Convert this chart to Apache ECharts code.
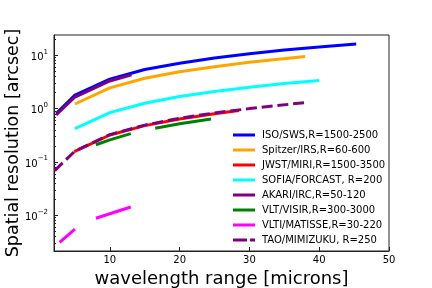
<!DOCTYPE html>
<html>
<head>
<meta charset="utf-8">
<script src="https://cdn.jsdelivr.net/npm/echarts@6/dist/echarts.min.js"></script>
<style>html,body{margin:0;padding:0;background:#fff}#c{width:432px;height:288px}</style>
</head>
<body>
<div id="c"></div>
<script>
// ---- data (wavelength in microns, resolution in arcsec) ----
const isoSws   = [[2.35,0.82],[5,1.8],[10,3.56],[15,5.4],[20,7.1],[25,8.9],[30,10.7],[35,12.5],[40,14.3],[45.3,16.2]];
const spitzer  = [[5.0,1.22],[10,2.45],[15,3.7],[20,4.9],[25,6.1],[30,7.4],[38,9.5]];
const jwst     = [[4.9,0.156],[10,0.32],[15,0.48],[20,0.64],[25,0.8],[28.5,0.92]];
const sofia    = [[5,0.42],[10,0.84],[15,1.26],[20,1.68],[25,2.1],[30,2.52],[35,2.95],[40,3.36]];
const akari    = [[2.3,0.76],[5,1.65],[10,3.3],[13.1,4.3]];
const visir    = [[8,0.21],[10,0.26],[13,0.34],[15,'-'],[16.5,0.43],[20,0.52],[24.5,0.64]];
const matisse  = [[2.8,0.0031],[5,0.0055],[6.5,'-'],[8,0.0088],[13,0.0143]];
const mimizuku = [[2.1,0.069],[5,0.16],[10,0.325],[15,0.49],[20,0.66],[25,0.83],[30,1.0],[38,1.3]];

const xTicks = [10, 20, 30, 40, 50];
const yTicks = [0.01, 0.1, 1, 10];
const yMinorTicks = [0.003,0.004,0.005,0.006,0.007,0.008,0.009,
                     0.02,0.03,0.04,0.05,0.06,0.07,0.08,0.09,
                     0.2,0.3,0.4,0.5,0.6,0.7,0.8,0.9,
                     2,3,4,5,6,7,8,9,20];

const names = ['ISO/SWS,R=1500-2500','Spitzer/IRS,R=60-600','JWST/MIRI,R=1500-3500','SOFIA/FORCAST, R=200',
               'AKARI/IRC,R=50-120','VLT/VISIR,R=300-3000','VLTI/MATISSE,R=30-220','TAO/MIMIZUKU, R=250'];
const colors = ['#0000ff','#ffa500','#ff0000','#00ffff','#800080','#008000','#ff00ff','#800080'];
const datas = [isoSws, spitzer, jwst, sofia, akari, visir, matisse, mimizuku];

const FONT = 'DejaVu Sans';
const YMIN = 0.00214, YMAX = 24;

const series = datas.map((d, i) => ({
  name: names[i],
  type: 'line',
  data: d,
  showSymbol: false,
  symbol: 'none',
  connectNulls: false,
  smooth: false,
  color: colors[i],
  itemStyle: {color: colors[i]},
  lineStyle: {
    color: colors[i],
    width: 3,
    type: i === 7 ? [11, 4.8] : 'solid',
    cap: 'butt'
  },
  emphasis: {disabled: true},
  animation: false
}));

const solidIcon = 'path://M0,0h22v3h-22z';
const dashIcon = 'path://M0,0h14v3h-14z M17,0h5v3h-5z';
const legendData = names.map((n, i) => ({name: n, icon: i === 7 ? dashIcon : solidIcon,
  itemStyle: {color: colors[i]}}));

function fmtPow(v) {
  const e = Math.round(Math.log10(v));
  const s = String(e).replace('-', '\u2212');
  return '{b|10}{s|' + s + '}';
}

const chart = echarts.init(document.getElementById('c'), null, {renderer: 'canvas'});
chart.setOption({
  backgroundColor: '#fff',
  animation: false,
  grid: {left: 54, right: 43, top: 35, bottom: 37, show: true, borderColor: '#222', borderWidth: 1, backgroundColor: 'transparent', outerBoundsMode: 'none'},
  legend: {
    orient: 'vertical', left: 228, top: 124,
    itemWidth: 22, itemHeight: 3, itemGap: 3,
    data: legendData,
    textStyle: {fontFamily: FONT, fontSize: 10, color: '#000', padding: [0,0,0,2], lineHeight: 12},
    selectedMode: false
  },
  xAxis: {
    type: 'value', min: 2, max: 50,
    name: 'wavelength range [microns]', nameLocation: 'middle', nameGap: 16,
    nameTextStyle: {fontFamily: FONT, fontSize: 18, color: '#000'},
    axisLine: {show: true, lineStyle: {color: '#222', width: 1}},
    axisTick: {show: true, inside: true, length: 4, customValues: xTicks, lineStyle: {color: '#222'}},
    axisLabel: {show: true, customValues: xTicks, margin: 4, fontFamily: FONT, fontSize: 10, color: '#000'},
    splitLine: {show: false}
  },
  yAxis: [{
    type: 'log', min: YMIN, max: YMAX, position: 'left',
    name: 'Spatial resolution [arcsec]', nameLocation: 'middle', nameGap: 32, nameMoveOverlap: false,
    nameTextStyle: {fontFamily: FONT, fontSize: 17.5, color: '#000'},
    axisLine: {show: true, lineStyle: {color: '#222', width: 1}},
    axisTick: {show: true, inside: true, length: 4, customValues: yTicks, lineStyle: {color: '#222'}},
    axisLabel: {
      show: true, customValues: yTicks, margin: 6, formatter: fmtPow,
      rich: {
        b: {fontFamily: FONT, fontSize: 10, color: '#000', verticalAlign: 'bottom', lineHeight: 14},
        s: {fontFamily: FONT, fontSize: 7, color: '#000', verticalAlign: 'top', lineHeight: 14}
      }
    },
    splitLine: {show: false}
  }, {
    type: 'log', min: YMIN, max: YMAX, position: 'left', offset: 0,
    axisLine: {show: false},
    axisTick: {show: true, inside: true, length: 2, customValues: yMinorTicks, lineStyle: {color: '#222'}},
    axisLabel: {show: false},
    splitLine: {show: false}
  }],
  series: series
});
</script>
</body>
</html>
